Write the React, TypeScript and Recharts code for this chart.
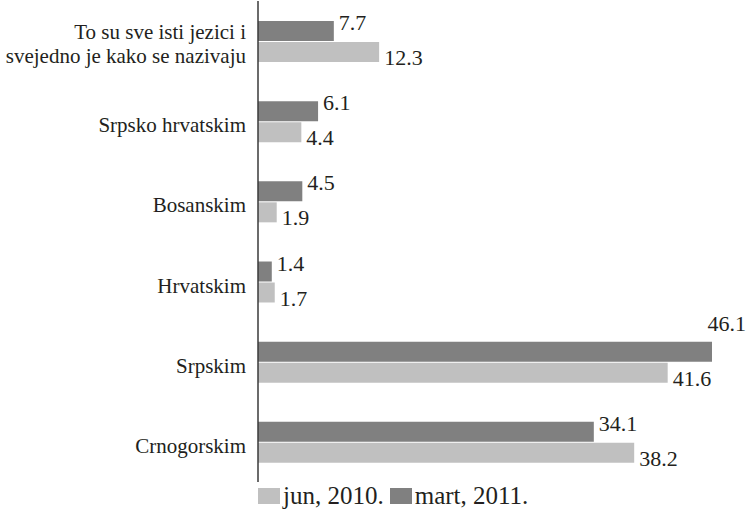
import React from 'react';
import { BarChart, Bar, XAxis, YAxis, Legend, LabelList } from 'recharts';

const categories = [
  'To su sve isti jezici i svejedno je kako se nazivaju',
  'Srpsko hrvatskim',
  'Bosanskim',
  'Hrvatskim',
  'Srpskim',
  'Crnogorskim',
];
const jun2010 = [12.3, 4.4, 1.9, 1.7, 41.6, 38.2];
const mart2011 = [7.7, 6.1, 4.5, 1.4, 46.1, 34.1];

// the long first label breaks onto two lines in the original
const tickLines: Record<string, string[]> = {
  'To su sve isti jezici i svejedno je kako se nazivaju': ['To su sve isti jezici i', 'svejedno je kako se nazivaju'],
};

const FONT = 'Liberation Serif';
const LIGHT = '#c0c0c0';
const DARK = '#808080';
const TEXT = '#231f20';
const W = 747;

const data = categories.map((name, i) => ({ name, jun: jun2010[i], mart: mart2011[i] }));

const CategoryTick = (props: any) => {
  const { x, y, payload } = props;
  const lines = tickLines[payload.value] || [payload.value];
  const start = lines.length > 1 ? -2 : 11;
  return (
    <g>
      {lines.map((l, i) => (
        <text key={i} x={x - 4} y={y + start + i * 24} textAnchor="end" fontFamily={FONT} fontSize={21} fill={TEXT}>
          {l}
        </text>
      ))}
    </g>
  );
};

const martLabel = (props: any) => {
  const { x, y, width, value } = props;
  const end = x + width;
  const tooWide = end + 5 + 40 > W;
  if (tooWide) {
    return (
      <text x={W - 1} y={y - 11} textAnchor="end" fontFamily={FONT} fontSize={22} fill={TEXT}>
        {value.toFixed(1)}
      </text>
    );
  }
  return (
    <text x={end + 5} y={y + 9} fontFamily={FONT} fontSize={22} fill={TEXT}>
      {value.toFixed(1)}
    </text>
  );
};

const junLabel = (props: any) => {
  const { x, y, width, value } = props;
  return (
    <text x={x + width + 5} y={y + 23} fontFamily={FONT} fontSize={22} fill={TEXT}>
      {value.toFixed(1)}
    </text>
  );
};

const legendItems = [
  { label: 'jun, 2010.', color: LIGHT },
  { label: 'mart, 2011.', color: DARK },
];

const renderLegend = () => (
  <div style={{ display: 'flex', alignItems: 'center', height: 28, paddingLeft: 258, fontFamily: FONT, fontSize: 25, color: TEXT }}>
    {legendItems.map((item) => (
      <div key={item.label} style={{ display: 'flex', alignItems: 'center', marginRight: 6 }}>
        <span style={{ display: 'inline-block', width: 22, height: 16, background: item.color, marginRight: 3 }} />
        <span>{item.label}</span>
      </div>
    ))}
  </div>
);

export default function App() {
  return (
    <div style={{ width: W, height: 516, background: '#fff' }}>
      <style>{'body{margin:0}'}</style>
      <BarChart
        width={W}
        height={516}
        data={data}
        layout="vertical"
        margin={{ top: 1, right: 35, bottom: 6, left: 0 }}
        barSize={20}
        barGap={1}
      >
        <XAxis type="number" domain={[0, 46.1]} hide />
        <YAxis
          type="category"
          dataKey="name"
          width={258}
          tickLine={false}
          axisLine={{ stroke: '#3a3a3a', strokeWidth: 1.5 }}
          tick={<CategoryTick />}
          interval={0}
        />
        <Legend verticalAlign="bottom" align="left" content={renderLegend} wrapperStyle={{ left: 0, width: W }} />
        <Bar dataKey="mart" name="mart, 2011." fill={DARK} isAnimationActive={false}>
          <LabelList dataKey="mart" content={martLabel} />
        </Bar>
        <Bar dataKey="jun" name="jun, 2010." fill={LIGHT} isAnimationActive={false}>
          <LabelList dataKey="jun" content={junLabel} />
        </Bar>
      </BarChart>
    </div>
  );
}
